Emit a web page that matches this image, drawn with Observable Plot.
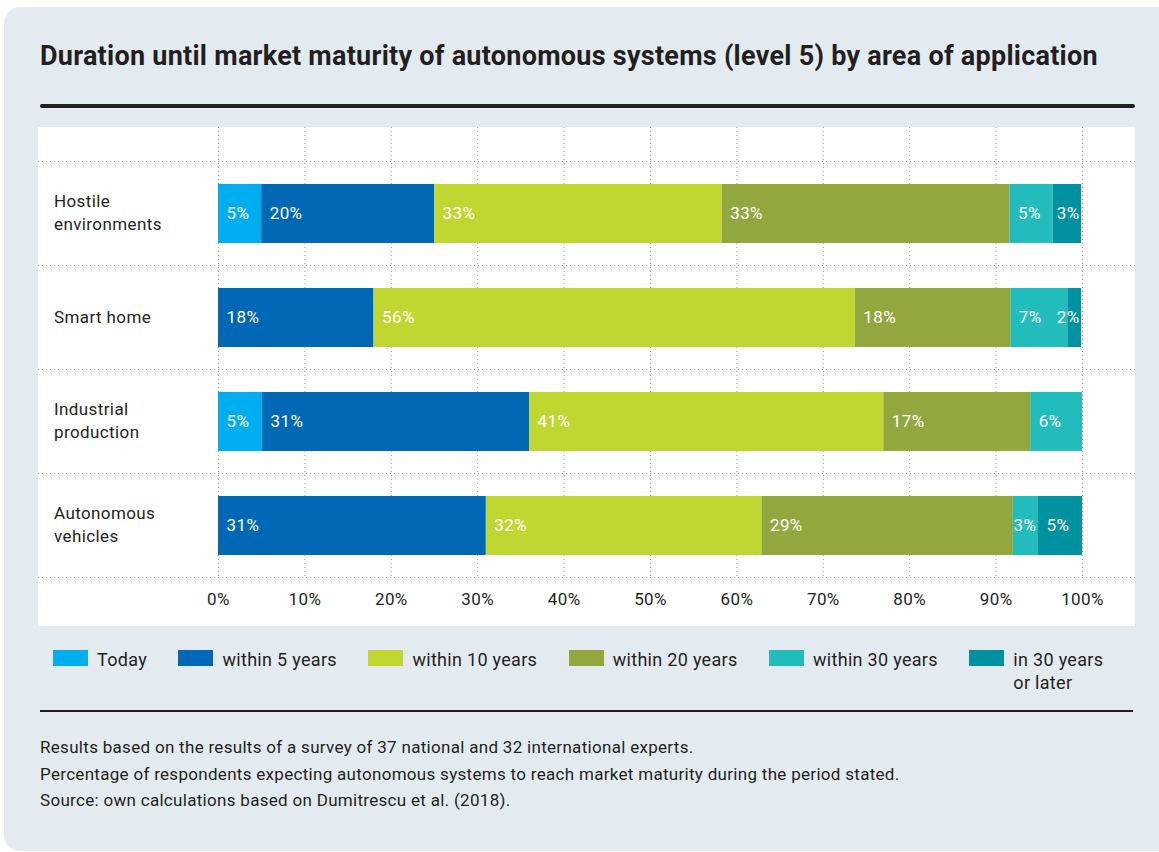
<!DOCTYPE html>
<html><head><meta charset="utf-8">
<script src="https://cdn.jsdelivr.net/npm/d3@7"></script>
<script src="https://cdn.jsdelivr.net/npm/@observablehq/plot@0.6"></script>
<style>
html,body{margin:0;padding:0;background:#fff;width:1159px;height:852px;overflow:hidden;font-family:Roboto,"Noto Sans",sans-serif;color:#231f20;}
#card{position:absolute;left:4px;top:7px;width:1180px;height:844px;background:#e3ebf0;border-radius:16px;}
#title{position:absolute;left:40px;top:40px;font-size:27px;font-weight:700;line-height:32px;letter-spacing:0.26px;white-space:nowrap;}
#rule1{position:absolute;left:40px;top:104px;width:1095px;height:4px;background:#231f20;border-radius:2px;}
#chart{position:absolute;left:38px;top:127px;width:1097px;height:499px;background:#fff;}
#chart svg{display:block;}
#legend{position:absolute;left:53px;top:650px;display:flex;gap:31.5px;align-items:flex-start;}
.item{display:flex;align-items:flex-start;}
.sw{width:35px;height:16px;margin-right:9px;flex:none;}
.lab{font-size:18px;line-height:23px;margin-top:-2.5px;letter-spacing:0.3px;white-space:pre;}
#rule2{position:absolute;left:40px;top:710px;width:1093px;height:1.5px;background:#231f20;}
#notes{position:absolute;left:40px;top:734px;font-size:17px;line-height:26.5px;letter-spacing:0.3px;}
</style>
</head><body>
<div id="card"></div>
<div id="title">Duration until market maturity of autonomous systems (level 5) by area of application</div>
<div id="rule1"></div>
<div id="chart"></div>
<div id="legend"></div>
<div id="rule2"></div>
<div id="notes">Results based on the results of a survey of 37 national and 32 international experts.<br>Percentage of respondents expecting autonomous systems to reach market maturity during the period stated.<br>Source: own calculations based on Dumitrescu et al. (2018).</div>
<script>
const categories = ["Hostile environments", "Smart home", "Industrial production", "Autonomous vehicles"];
const categoryLabels = ["Hostile\nenvironments", "Smart home", "Industrial\nproduction", "Autonomous\nvehicles"];
const series = ["Today", "within 5 years", "within 10 years", "within 20 years", "within 30 years", "in 30 years or later"];
const seriesLegend = ["Today", "within 5 years", "within 10 years", "within 20 years", "within 30 years", "in 30 years\nor later"];
const colors = ["#00aeef", "#0068b4", "#bfd730", "#92a83e", "#22bcbd", "#0092a0"];
const hostile    = [5.0, 20.0, 33.3, 33.3, 5.0, 3.3];
const smartHome  = [0.0, 18.0, 55.7, 18.0, 6.6, 1.6];
const industrial = [5.1, 30.9, 41.0, 17.0, 6.0, 0.0];
const vehicles   = [0.0, 31.0, 31.9, 29.1, 2.9, 5.1];
const xTicks = [0, 10, 20, 30, 40, 50, 60, 70, 80, 90, 100];

const rows = [hostile, smartHome, industrial, vehicles];
const table = [];
categories.forEach((c, i) => series.forEach((s, j) => table.push({category: c, series: s, value: rows[i][j]})));

const W = 1097, H = 499, mL = 180, mR = 53, mT = 34, mB = 49;
const step = (H - mT - mB) / categories.length;
const fmt = d3.format(".0f");
const grid = {stroke: "#9a9a9a", strokeDasharray: "1,3", strokeWidth: 1};

const chart = Plot.plot({
  width: W, height: H,
  marginLeft: mL, marginRight: mR, marginTop: mT, marginBottom: mB,
  style: {fontFamily: "Roboto, 'Noto Sans', sans-serif", fontSize: "17px", color: "#231f20", background: "white", letterSpacing: "0.4px"},
  x: {domain: [0, 100], axis: null},
  y: {domain: categories, padding: 0, axis: null},
  color: {domain: series, range: colors},
  marks: [
    Plot.ruleX(xTicks, {x: d => d, insetTop: -mT, ...grid}),
    Plot.ruleY(categories, {y: d => d, dy: -step / 2, insetLeft: -mL, insetRight: -mR, ...grid}),
    Plot.ruleY(categories.slice(-1), {y: d => d, dy: step / 2, insetLeft: -mL, insetRight: -mR, ...grid}),
    Plot.barX(table, Plot.stackX({x: "value", y: "category", fill: "series", insetTop: 23, insetBottom: 22})),
    Plot.text(table, Plot.stackX1({x: "value", y: "category",
      text: d => d.value >= 4 ? fmt(d.value) + "%" : "",
      textAnchor: "start", dx: 8, fill: "white", fontSize: 17, fontWeight: 400})),
    Plot.text(table, Plot.stackX2({x: "value", y: "category",
      text: d => d.value > 0 && d.value < 4 ? fmt(d.value) + "%" : "",
      textAnchor: "end", dx: -2, fill: "white", fontSize: 17, fontWeight: 400})),
    Plot.text(categories, {y: d => d, frameAnchor: "left", dx: 15.5 - mL, dy: -2, textAnchor: "start",
      text: (d, i) => categoryLabels[i], lineHeight: 1.35, fontSize: 17, fill: "#231f20"}),
    Plot.axisX(xTicks, {tickSize: 0, tickPadding: 15, tickFormat: d => d + "%", fontSize: 17, fill: "#231f20", label: null})
  ]
});
document.getElementById("chart").appendChild(chart);

const legend = d3.select("#legend");
series.forEach((s, i) => {
  const it = legend.append("div").attr("class", "item");
  it.append("div").attr("class", "sw").style("background", colors[i]);
  it.append("div").attr("class", "lab").text(seriesLegend[i]);
});
</script>
</body></html>
